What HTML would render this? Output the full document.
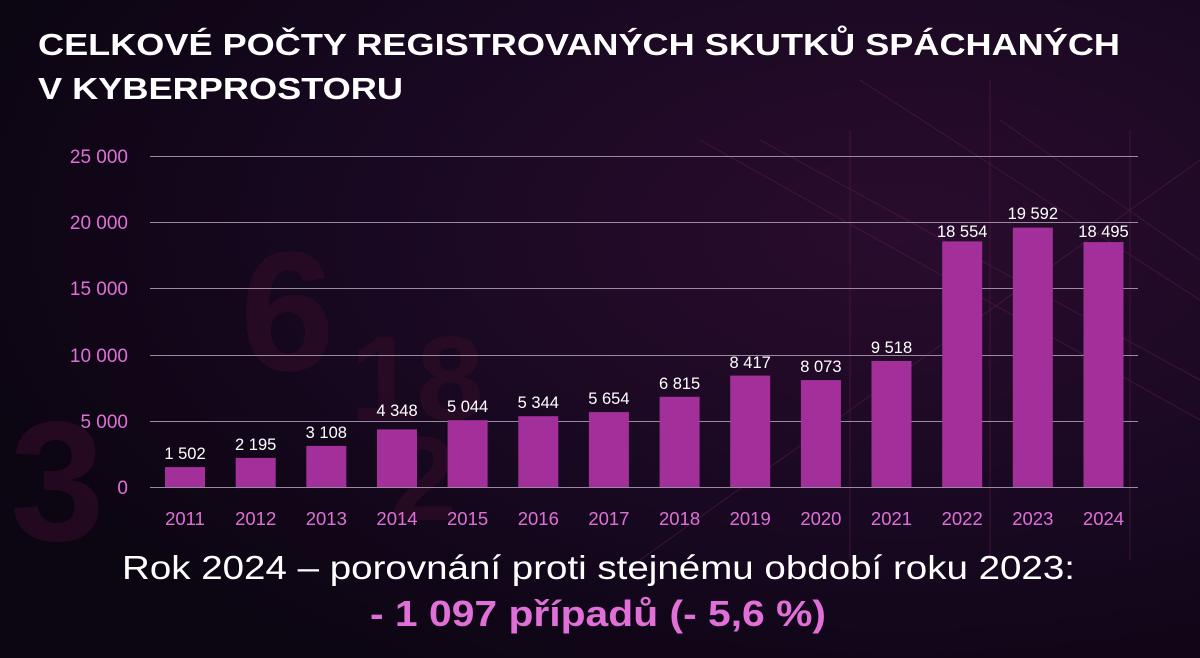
<!DOCTYPE html>
<html><head><meta charset="utf-8"><style>
html,body{margin:0;padding:0;width:1200px;height:658px;overflow:hidden;background:#12061a;}
</style></head><body>
<svg width="1200" height="658" xmlns="http://www.w3.org/2000/svg" font-family="Liberation Sans, sans-serif">
<defs>
<radialGradient id="bg" cx="0.75" cy="0.35" r="0.8">
<stop offset="0" stop-color="#2a0c2e"/><stop offset="0.6" stop-color="#170820"/><stop offset="1" stop-color="#0c0512"/>
</radialGradient>
</defs>
<rect width="1200" height="658" fill="url(#bg)"/>
<g stroke="#5a1a4a" stroke-width="1" opacity="0.6" fill="none">
<path d="M700 140 L1200 420 M760 140 L1200 380 M1200 160 L640 560 M1000 120 L1200 260 M860 80 L1200 300 M1130 130 L1130 560 M990 80 L990 560 M850 130 L850 560"/>
</g>
<g fill="#2e0c26" opacity="0.7" font-weight="bold">
<text x="10" y="540" font-size="170">3</text>
<text x="240" y="370" font-size="170">6</text>
<text x="350" y="420" font-size="120">18</text>
<text x="390" y="520" font-size="120">2</text>
</g>
<text x="38" y="55" fill="#fff" font-size="31" font-weight="bold" textLength="1082" lengthAdjust="spacingAndGlyphs">CELKOVÉ POČTY REGISTROVANÝCH SKUTKŮ SPÁCHANÝCH</text>
<text x="38" y="99" fill="#fff" font-size="31" font-weight="bold" textLength="365" lengthAdjust="spacingAndGlyphs">V KYBERPROSTORU</text>
<g stroke="#9a8aa0" stroke-width="1">
<line x1="150" x2="1138" y1="156.5" y2="156.5"/>
<line x1="150" x2="1138" y1="222.5" y2="222.5"/>
<line x1="150" x2="1138" y1="288.5" y2="288.5"/>
<line x1="150" x2="1138" y1="355.5" y2="355.5"/>
<line x1="150" x2="1138" y1="421.5" y2="421.5"/>
<line x1="150" x2="1138" y1="487.5" y2="487.5"/>
</g>
<g fill="#e070d8" font-size="19" text-anchor="end">
<text x="128" y="163">25 000</text><text x="128" y="229">20 000</text><text x="128" y="295">15 000</text>
<text x="128" y="362">10 000</text><text x="128" y="428">5 000</text><text x="128" y="494">0</text>
</g>
<g fill="#a3309a">
<rect x="165" y="467.1" width="40" height="19.9"/>
<rect x="235.7" y="457.9" width="40" height="29.1"/>
<rect x="306.3" y="445.9" width="40" height="41.1"/>
<rect x="377" y="429.4" width="40" height="57.6"/>
<rect x="447.6" y="420.2" width="40" height="66.8"/>
<rect x="518.3" y="416.2" width="40" height="70.8"/>
<rect x="588.9" y="412.1" width="40" height="74.9"/>
<rect x="659.6" y="396.8" width="40" height="90.2"/>
<rect x="730.2" y="375.6" width="40" height="111.4"/>
<rect x="800.9" y="380.1" width="40" height="106.9"/>
<rect x="871.5" y="361" width="40" height="126"/>
<rect x="942.2" y="241.4" width="40" height="245.6"/>
<rect x="1012.8" y="227.6" width="40" height="259.4"/>
<rect x="1083.5" y="242.1" width="40" height="244.9"/>
</g>
<g fill="#fff" font-size="16.5" text-anchor="middle">
<text x="185" y="459">1 502</text>
<text x="255.7" y="450">2 195</text>
<text x="326.3" y="438">3 108</text>
<text x="397" y="416">4 348</text>
<text x="467.6" y="412">5 044</text>
<text x="538.3" y="408">5 344</text>
<text x="608.9" y="404">5 654</text>
<text x="679.6" y="389">6 815</text>
<text x="750.2" y="368">8 417</text>
<text x="820.9" y="372">8 073</text>
<text x="891.5" y="353">9 518</text>
<text x="962.2" y="237">18 554</text>
<text x="1032.8" y="219">19 592</text>
<text x="1103.5" y="237">18 495</text>
</g>
<g fill="#e070d8" font-size="18.5" text-anchor="middle">
<text x="185" y="525">2011</text><text x="255.7" y="525">2012</text><text x="326.3" y="525">2013</text>
<text x="397" y="525">2014</text><text x="467.6" y="525">2015</text><text x="538.3" y="525">2016</text>
<text x="608.9" y="525">2017</text><text x="679.6" y="525">2018</text><text x="750.2" y="525">2019</text>
<text x="820.9" y="525">2020</text><text x="891.5" y="525">2021</text><text x="962.2" y="525">2022</text>
<text x="1032.8" y="525">2023</text><text x="1103.5" y="525">2024</text>
</g>
<text x="122" y="579" fill="#fff" font-size="33" textLength="953" lengthAdjust="spacingAndGlyphs">Rok 2024 – porovnání proti stejnému období roku 2023:</text>
<text x="370" y="626" fill="#e070d8" font-size="36" font-weight="bold" textLength="456" lengthAdjust="spacingAndGlyphs">- 1 097 případů (- 5,6 %)</text>
</svg>
</body></html>
